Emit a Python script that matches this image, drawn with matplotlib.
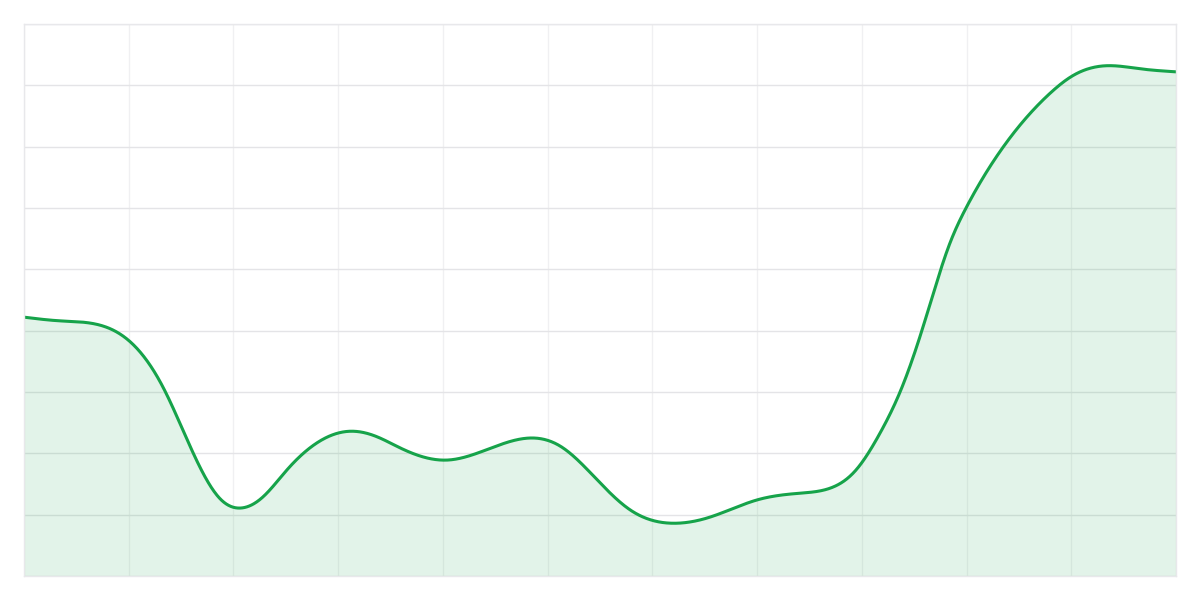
import numpy as np
import matplotlib
matplotlib.use('Agg')
import matplotlib.pyplot as plt

# values (x in grid columns, y in grid rows * 10)
x_pts = [0, 0.344, 0.726, 0.993, 1.327, 1.614, 1.872, 2.082, 2.282, 2.511,
         2.731, 3.113, 3.371, 3.590, 4.039, 4.545, 4.860, 5.118, 5.500, 5.786,
         6.197, 6.550, 6.999, 7.410, 7.725, 7.935, 8.174, 8.365, 8.575,
         8.842, 8.995, 9.348, 9.797, 10.007, 10.341, 10.656, 11.0]
y_pts = [42.2, 41.6, 40.9, 38.5, 30.8, 20.1, 12.6, 11.1, 12.9, 17.3,
         20.9, 23.6, 22.7, 20.9, 18.9, 21.4, 22.5, 21.2, 15.2, 10.8,
         8.6, 9.6, 12.4, 13.5, 14.5, 17.1, 23.3, 30.0, 40.1,
         54.3, 60.0, 69.9, 78.7, 81.5, 83.2, 82.7, 82.2]

line_color = '#16a34a'


def smooth(x, y, xs):
    # natural cubic spline so the line bends like the reference
    x = np.asarray(x, float)
    y = np.asarray(y, float)
    n = len(x)
    h = np.diff(x)
    A = np.zeros((n, n))
    b = np.zeros(n)
    A[0, 0] = A[-1, -1] = 1
    for i in range(1, n - 1):
        A[i, i - 1] = h[i - 1]
        A[i, i] = 2 * (h[i - 1] + h[i])
        A[i, i + 1] = h[i]
        b[i] = 6 * ((y[i + 1] - y[i]) / h[i] - (y[i] - y[i - 1]) / h[i - 1])
    M = np.linalg.solve(A, b)
    idx = np.clip(np.searchsorted(x, xs) - 1, 0, n - 2)
    hi = h[idx]
    a = x[idx + 1] - xs
    c = xs - x[idx]
    return (M[idx] * a**3 / (6 * hi) + M[idx + 1] * c**3 / (6 * hi) +
            (y[idx] / hi - M[idx] * hi / 6) * a +
            (y[idx + 1] / hi - M[idx + 1] * hi / 6) * c)


xs = np.linspace(x_pts[0], x_pts[-1], 2000)
ys = smooth(x_pts, y_pts, xs)

fig = plt.figure(figsize=(12, 6), dpi=100)
ax = fig.add_axes([0.02, 0.04, 0.96, 0.92])

ax.fill_between(xs, ys, 0, color=line_color, alpha=0.12, linewidth=0)
ax.plot(xs, ys, color=line_color, linewidth=2.2, solid_capstyle='round')

ax.set_xlim(0, 11)
ax.set_ylim(0, 90)
ax.set_xticks(np.arange(0, 12, 1))
ax.set_yticks(np.arange(0, 100, 10))
ax.tick_params(length=0, labelbottom=False, labelleft=False)
ax.xaxis.grid(True, color='#f0f0f2', linewidth=1)
ax.yaxis.grid(True, color='#e4e4e7', linewidth=1)
ax.set_axisbelow(True)
for s in ax.spines.values():
    s.set_color('#e8e8eb')
    s.set_linewidth(1)

fig.savefig('out.png', dpi=100, facecolor='white')
